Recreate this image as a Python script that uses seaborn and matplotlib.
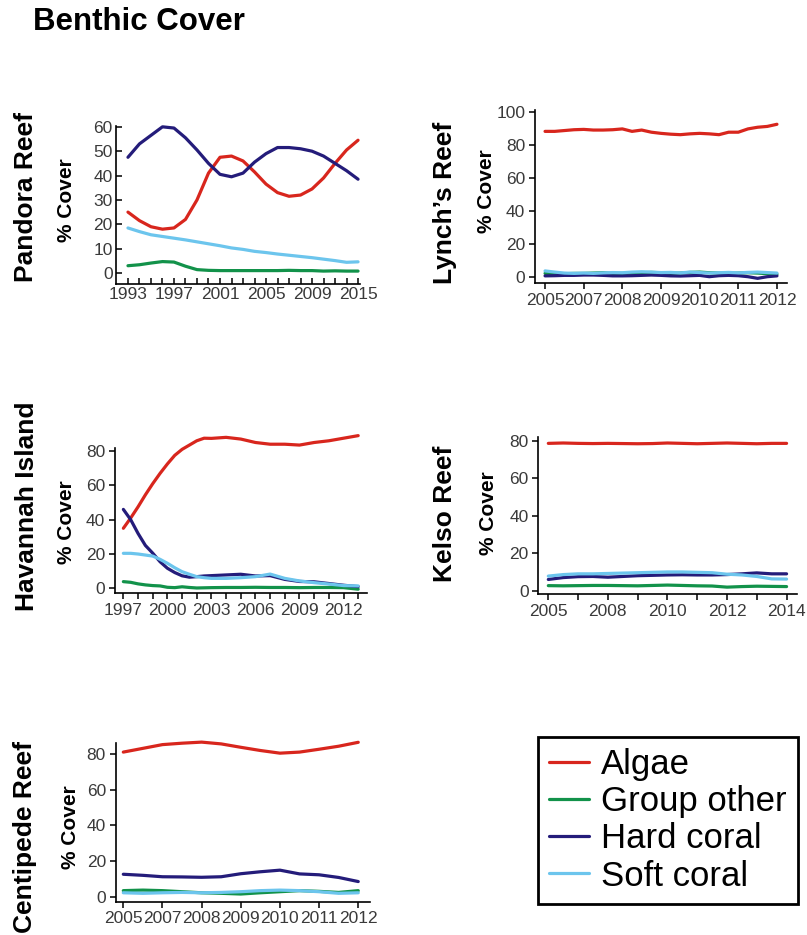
import numpy as np
import pandas as pd
import matplotlib
matplotlib.use("Agg")
import matplotlib.pyplot as plt
from matplotlib.lines import Line2D
import seaborn as sns

# ---- data ----
groups = ["Algae", "Group other", "Hard coral", "Soft coral"]
colors = ["#d8261d", "#12924a", "#241c7a", "#6cc5ed"]

# Pandora Reef: x = survey index (21 surveys)
pandora_x = list(range(21))
pandora_ticklabels = ["1993", "", "", "", "1997", "", "", "", "2001", "", "", "",
                      "2005", "", "", "", "2009", "", "", "", "2015"]
pandora_algae = [25, 21.5, 19, 18, 18.5, 22, 30, 41, 47.5, 48, 46, 41.5, 36.5, 33,
                 31.5, 32, 34.5, 39, 45, 50.5, 54.5]
pandora_other = [3.0, 3.4, 4.1, 4.7, 4.5, 2.8, 1.4, 1.1, 1.0, 1.0, 1.0, 1.0, 1.0, 1.0,
                 1.1, 1.0, 1.0, 0.8, 0.9, 0.8, 0.8]
pandora_hard = [47.5, 53, 56.5, 60, 59.5, 55.5, 50.5, 45, 40.5, 39.5, 41, 45.5, 49,
                51.5, 51.5, 51, 50, 48, 45, 42, 38.5]
pandora_soft = [18.5, 17, 15.7, 15, 14.3, 13.6, 12.8, 12, 11.2, 10.3, 9.7, 8.9, 8.4,
                7.8, 7.3, 6.8, 6.3, 5.7, 5.1, 4.4, 4.6]

# Lynch's Reef: x in tick units (7 ticks), quarter steps
lynch_x = [0, 0.25, 0.5, 0.75, 1, 1.25, 1.5, 1.75, 2, 2.25, 2.5, 2.75, 3, 3.25, 3.5,
           3.75, 4, 4.25, 4.5, 4.75, 5, 5.25, 5.5, 5.75, 6]
lynch_ticklabels = ["2005", "2007", "2008", "2009", "2010", "2011", "2012"]
lynch_algae = [88, 88, 88.5, 89, 89.2, 88.8, 88.8, 89, 89.5, 88, 88.8, 87.5, 86.8, 86.3,
               86, 86.5, 86.8, 86.5, 86, 87.5, 87.5, 89.5, 90.5, 91, 92.3]
lynch_other = [2.0, 2.0, 1.8, 2.0, 2.0, 2.2, 2.4, 2.0, 2.0, 2.2, 2.4, 2.6, 2.4, 2.0, 2.2,
               2.6, 2.8, 2.4, 2.2, 2.0, 2.2, 2.4, 2.2, 1.8, 1.5]
lynch_hard = [0.5, 0.6, 0.8, 0.8, 1.0, 1.0, 0.8, 0.5, 0.5, 0.6, 0.8, 1.0, 0.8, 0.5, 0.4,
              0.6, 0.8, 0.0, 0.6, 0.8, 0.6, 0.0, -1.0, 0.0, 0.5]
lynch_soft = [3.5, 2.8, 2.2, 2.0, 2.2, 2.0, 2.3, 2.5, 2.4, 2.8, 3.0, 2.8, 2.5, 2.6, 2.3,
              2.8, 2.5, 2.2, 2.4, 2.6, 2.3, 2.6, 2.8, 2.5, 2.2]

# Havannah Island: x in years
havannah_x = [1997, 1997.5, 1998, 1998.5, 1999, 1999.5, 2000, 2000.5, 2001, 2001.5,
              2002, 2002.5, 2003, 2004, 2005, 2006, 2007, 2008, 2009, 2010, 2011,
              2012, 2013]
havannah_ticks = list(range(1997, 2014))
havannah_ticklabels = ["1997", "", "", "2000", "", "", "2003", "", "", "2006", "", "",
                       "2009", "", "", "2012", ""]
havannah_algae = [35, 41, 47.5, 54.5, 61, 67, 72.5, 77.5, 81, 83.5, 86, 87.5, 87.4, 88,
                  87, 85, 84, 84, 83.5, 85, 86, 87.5, 89]
havannah_other = [3.9, 3.5, 2.6, 2.0, 1.6, 1.4, 0.6, 0.4, 0.9, 0.5, 0.2, 0.3, 0.4, 0.5,
                  0.5, 0.6, 0.5, 0.5, 0.4, 0.5, 0.5, 0.4, -0.5]
havannah_hard = [46, 40, 32, 25, 20.5, 15.5, 11.7, 9.2, 7.3, 6.5, 6.8, 7.2, 7.4, 7.8,
                 8.2, 7.2, 7.4, 5.2, 4.0, 3.8, 2.8, 1.8, 1.0]
havannah_soft = [20.4, 20.4, 20, 19.4, 18.8, 16.9, 14.6, 12, 9.7, 8.2, 6.8, 6.2, 5.8,
                 5.8, 6.2, 6.8, 8.3, 5.8, 4.3, 3.3, 2.5, 1.6, 1.4]

# Kelso Reef: x in tick units (9 ticks), half steps
kelso_x = [0, 0.5, 1, 1.5, 2, 2.5, 3, 3.5, 4, 4.5, 5, 5.5, 6, 6.5, 7, 7.5, 8]
kelso_ticklabels = ["2005", "", "2008", "", "2010", "", "2012", "", "2014"]
kelso_algae = [78.6, 78.8, 78.6, 78.5, 78.6, 78.5, 78.4, 78.5, 78.8, 78.6, 78.4, 78.6,
               78.8, 78.6, 78.4, 78.6, 78.6]
kelso_other = [2.7, 2.6, 2.7, 2.8, 2.8, 2.7, 2.6, 2.8, 3.0, 2.8, 2.6, 2.5, 1.9, 2.2,
               2.4, 2.3, 2.2]
kelso_hard = [6.0, 7.0, 7.5, 7.6, 7.2, 7.6, 8.0, 8.2, 8.4, 8.5, 8.4, 8.4, 8.6, 9.0,
              9.5, 9.0, 9.0]
kelso_soft = [7.8, 8.6, 9.0, 9.0, 9.2, 9.4, 9.6, 9.8, 10.0, 10.0, 9.8, 9.6, 8.8, 8.4,
              7.6, 6.3, 6.2]

# Centipede Reef: x in tick units (7 ticks), half steps
centipede_x = [0, 0.5, 1, 1.5, 2, 2.5, 3, 3.5, 4, 4.5, 5, 5.5, 6]
centipede_ticklabels = ["2005", "2007", "2008", "2009", "2010", "2011", "2012"]
centipede_algae = [81.2, 83.3, 85.4, 86.2, 86.8, 85.8, 83.9, 82.1, 80.6, 81.2, 82.8,
                   84.5, 86.7]
centipede_other = [3.4, 3.7, 3.4, 2.8, 2.2, 1.9, 1.5, 2.2, 2.8, 3.4, 3.0, 2.4, 3.4]
centipede_hard = [12.6, 12.0, 11.2, 11.1, 10.9, 11.2, 12.9, 14.0, 14.9, 12.8, 12.3,
                  10.8, 8.5]
centipede_soft = [2.2, 1.9, 2.2, 2.4, 2.2, 2.4, 2.8, 3.4, 3.7, 3.4, 2.8, 1.9, 2.2]

# ---- styling ----
sns.set_style("ticks")
plt.rcParams["font.family"] = ["Liberation Sans", "DejaVu Sans"]
plt.rcParams["text.color"] = "black"

W, H = 807, 935
fig = plt.figure(figsize=(W / 100, H / 100), dpi=100)
palette = dict(zip(groups, colors))
tick_color = "#3a3a3a"


def long_frame(x, algae, other, hard, soft):
    frames = []
    for name, vals in zip(groups, [algae, other, hard, soft]):
        frames.append(pd.DataFrame({"x": x, "cover": vals, "group": name}))
    return pd.concat(frames, ignore_index=True)


def panel(box, xlim, ylim, spine_top, xticks, xticklabels, yticks, df,
          direction="out", title=None, title_xy=None, ylab_xy=None):
    l, t, r, b = box
    ax = fig.add_axes([l / W, 1 - b / H, (r - l) / W, (b - t) / H])
    ax.patch.set_alpha(0)
    sns.lineplot(data=df, x="x", y="cover", hue="group", hue_order=groups,
                 palette=palette, linewidth=2.3, legend=False, ax=ax,
                 estimator=None, sort=False)
    ax.set_xlim(*xlim)
    ax.set_ylim(*ylim)
    ax.set_xticks(xticks)
    ax.set_xticklabels(xticklabels)
    ax.set_yticks(yticks)
    ax.set_xlabel("")
    ax.set_ylabel("")
    for s in ["top", "right"]:
        ax.spines[s].set_visible(False)
    ax.spines["left"].set_bounds(ylim[0], spine_top)
    for s in ["left", "bottom"]:
        ax.spines[s].set_linewidth(1.2)
        ax.spines[s].set_color("black")
    ax.tick_params(direction=direction, length=4.5, width=1.1, color="black",
                   labelsize=12.5, labelcolor=tick_color, pad=2.5)
    for line in ax.lines:
        line.set_clip_on(False)
    fig.text(title_xy[0] / W, 1 - title_xy[1] / H, title, rotation=90,
             ha="center", va="center", fontsize=19, fontweight="bold")
    fig.text(ylab_xy[0] / W, 1 - ylab_xy[1] / H, "% Cover", rotation=90,
             ha="center", va="center", fontsize=15, fontweight="bold")
    return ax


panel((116, 120, 360, 284), (-1.04, 20.17), (-4.5, 62.8), 60.5,
      pandora_x, pandora_ticklabels, range(0, 61, 10),
      long_frame(pandora_x, pandora_algae, pandora_other, pandora_hard, pandora_soft),
      direction="in", title="Pandora Reef", title_xy=(26, 197), ylab_xy=(66, 200))

panel((535, 100, 787, 283.3), (-0.26, 6.26), (-4.0, 107), 101,
      range(7), lynch_ticklabels, range(0, 101, 20),
      long_frame(lynch_x, lynch_algae, lynch_other, lynch_hard, lynch_soft),
      title="Lynch\u2019s Reef", title_xy=(445, 203), ylab_xy=(487, 191))

panel((115, 425, 367, 593.3), (1996.43, 2013.6), (-2.9, 95.2), 81.6,
      havannah_ticks, havannah_ticklabels, range(0, 81, 20),
      long_frame(havannah_x, havannah_algae, havannah_other, havannah_hard, havannah_soft),
      title="Havannah Island", title_xy=(27, 506), ylab_xy=(67, 522))

panel((538.3, 425, 796.7, 594), (-0.336, 8.34), (-1.76, 88.4), 82,
      range(9), kelso_ticklabels, range(0, 81, 20),
      long_frame(kelso_x, kelso_algae, kelso_other, kelso_hard, kelso_soft),
      title="Kelso Reef", title_xy=(445, 514), ylab_xy=(488, 513))

panel((115.7, 735, 370, 901.7), (-0.194, 6.3), (-2.81, 90.8), 86.2,
      range(7), centipede_ticklabels, range(0, 81, 20),
      long_frame(centipede_x, centipede_algae, centipede_other, centipede_hard, centipede_soft),
      title="Centipede Reef", title_xy=(25, 837), ylab_xy=(70, 827))

fig.text(33 / W, 1 - 22 / H, "Benthic Cover", ha="left", va="center",
         fontsize=22.5, fontweight="bold")

handles = [Line2D([0], [0], color=c, linewidth=2.3) for c in colors]
leg = fig.legend(handles, groups, loc="upper left",
                 bbox_to_anchor=(538 / W, 1 - 737 / H), frameon=True,
                 fancybox=False, fontsize=25, handlelength=1.15,
                 handletextpad=0.35, labelspacing=0.12, borderpad=0.32,
                 borderaxespad=0)
frame = leg.get_frame()
frame.set_edgecolor("black")
frame.set_linewidth(2)
frame.set_facecolor("white")
frame.set_alpha(1)

fig.savefig("out.png", dpi=100)
